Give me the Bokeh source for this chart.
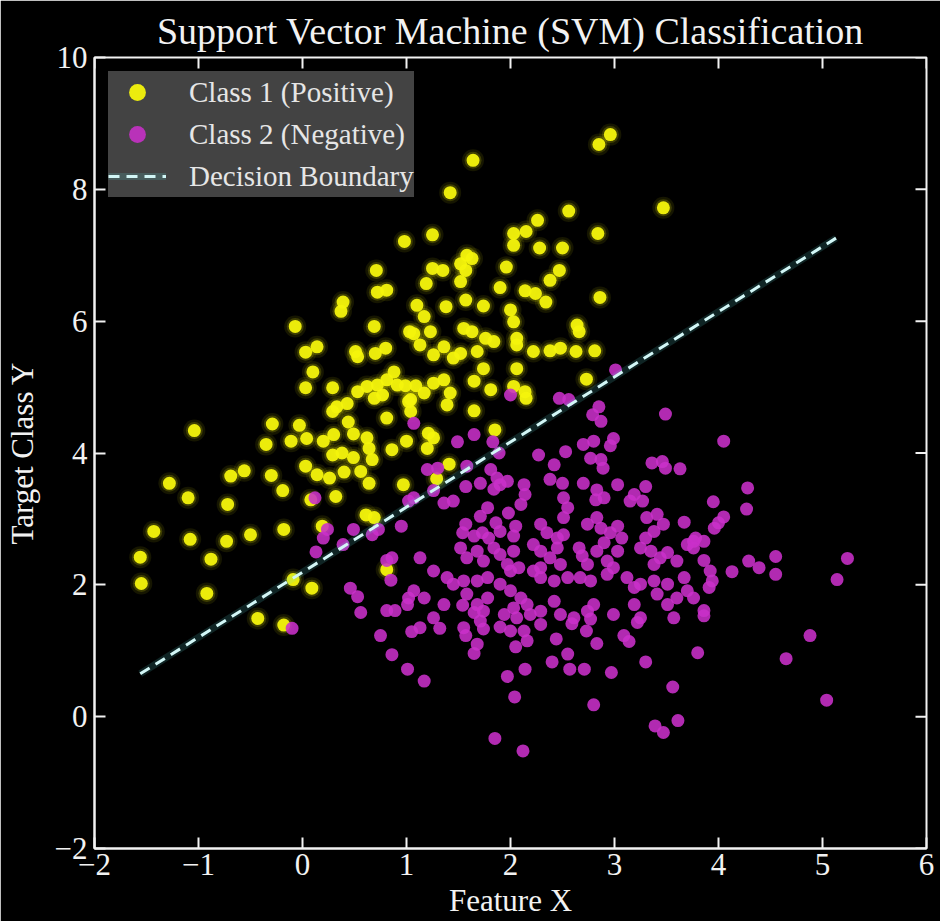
from bokeh.plotting import figure
from bokeh.models import (Range1d, FixedTicker, Legend, LegendItem, ColumnDataSource)
from bokeh.embed import file_html
from bokeh.resources import INLINE

FONT = "Liberation Serif"
FG = "#f2f2f2"

title_text = "Support Vector Machine (SVM) Classification"
x_label = "Feature X"
y_label = "Target Class Y"
legend_labels = ["Class 1 (Positive)", "Class 2 (Negative)", "Decision Boundary"]

x_ticks = [-2, -1, 0, 1, 2, 3, 4, 5, 6]
y_ticks = [-2, 0, 2, 4, 6, 8, 10]
tick_text = {-2: "\u22122", -1: "\u22121"}

# Class 1 (yellow)
class1_x = [1.64, 1.42, 2.85, 2.96, 3.47, 2.56, 2.84, 1.25, 0.98, 2.03, 2.15, 2.26, 2.03, 2.28, 2.50,
            1.58, 1.63, 1.52, 1.57, 1.25, 1.35, 1.96, 2.47, 1.19, 1.52, 1.90, 2.38, 2.14, 2.24, 2.34,
            2.86, 1.10, 1.38, 1.57, 1.74, 2.00, 1.17, 2.03, 2.64, 2.66, 1.07, 1.23, 1.55, 1.63, 1.76,
            1.84, 2.06, 1.13, 1.36, 1.52, 1.68, 2.22, 2.38, 2.48, 2.63, 2.81, 2.06, 1.26, 0.71, 0.72,
            0.81, 0.39, 0.37, -0.07, 0.69, 0.14, 0.03, 0.51, 0.70, 0.80, 1.03, 0.53, 0.10, 0.03, 0.29,
            0.53, 0.62, 0.72, 0.81, 0.88, 0.91, 0.69, 0.77, 0.29, 0.33, 0.43, 1.02, -1.04, -0.29, -0.03,
            0.44, 0.81, -0.35, -0.11, 0.04, 0.20, 0.30, 0.49, 0.62, 0.64, 0.86, 1.00, 0.29, 0.38, 0.49,
            0.67, -0.69, -0.56, -0.30, 0.03, 0.14, 0.26, 0.40, 0.56, 0.64, 0.97, -1.28, -1.10, -0.72,
            -0.19, 0.08, 0.32, 0.61, 0.69, -1.43, -1.08, -0.73, -0.50, -0.18, 0.19, -1.56, -0.88, -1.55,
            -0.92, -0.09, 0.09, -0.43, -0.18, 0.81, 1.45, 1.74, 2.06, 0.99, 1.09, 1.26, 1.36, 1.65,
            1.81, 2.03, 2.14, 2.15, 2.73, 1.04, 1.17, 1.42, 1.39, 1.04, 1.65, 1.21, 1.26, 1.20, 1.85,
            1.41, 1.29]
class1_y = [8.44, 7.95, 8.68, 8.83, 7.72, 7.67, 7.33, 7.31, 7.21, 7.33, 7.36, 7.53, 7.15, 7.11, 7.11,
            7.00, 6.95, 6.87, 6.77, 6.80, 6.77, 6.82, 6.77, 6.57, 6.60, 6.51, 6.62, 6.46, 6.42, 6.29,
            6.36, 6.24, 6.22, 6.32, 6.23, 6.17, 6.07, 5.99, 5.94, 5.84, 5.81, 5.84, 5.89, 5.84, 5.74,
            5.69, 5.74, 5.64, 5.61, 5.51, 5.54, 5.54, 5.55, 5.59, 5.54, 5.55, 5.64, 5.49, 6.77, 6.44,
            6.47, 6.29, 6.15, 5.92, 5.92, 5.61, 5.53, 5.54, 5.51, 5.59, 5.84, 5.46, 5.23, 4.99, 4.99,
            4.93, 5.01, 5.03, 5.11, 5.23, 5.03, 4.83, 4.88, 4.63, 4.70, 4.75, 4.78, 4.34, 4.44, 4.42,
            4.47, 4.53, 4.13, 4.18, 4.22, 4.18, 4.28, 4.29, 4.23, 4.07, 4.05, 4.18, 3.97, 4.00, 3.93,
            3.90, 3.65, 3.73, 3.66, 3.80, 3.67, 3.62, 3.71, 3.72, 3.54, 3.52, 3.54, 3.32, 3.22,
            3.43, 3.29, 3.34, 3.06, 3.02, 2.81, 2.69, 2.66, 2.76, 2.84, 2.89, 2.42, 2.39, 2.02,
            1.87, 2.08, 1.95, 1.49, 1.39, 2.23, 5.44, 5.28, 5.28, 5.02, 5.02, 5.06, 5.11, 5.09,
            4.96, 5.01, 4.93, 4.83, 5.12, 4.81, 4.91, 4.91, 4.73, 4.63, 4.64, 4.30, 4.23, 4.07, 4.35,
            3.83, 3.61]

# Class 2 (magenta)
class2_x = [0.12, 0.24, 0.20, 0.49, 0.67, 0.73, 0.95, 1.02, 0.13, 0.39, 0.81, 0.86, 0.85, 0.46, 0.53,
            0.56, 0.81, 0.89, 1.02, 0.75, -0.10, 2.00, 1.07, 3.01, 2.47, 2.56, 2.85, 2.79, 2.87, 3.49,
            1.49, 1.65, 1.83, 1.89, 2.27, 2.53, 2.42, 2.70, 2.80, 2.96, 2.99, 2.77, 2.87, 2.89, 3.36,
            3.46, 3.49, 3.63, 1.20, 1.30, 1.58, 1.81, 1.57, 1.71, 1.87, 1.90, 1.97, 2.13, 2.14, 2.38,
            2.50, 2.70, 2.83, 2.82, 2.90, 3.03, 3.19, 3.30, 3.27, 3.15, 1.07, 1.26, 1.36, 1.45, 1.84,
            2.51, 2.55, 2.51, 2.10, 1.98, 1.78, 1.71, 1.57, 1.54, 1.65, 1.73, 1.79, 1.86, 1.90, 2.05,
            2.03, 2.29, 2.35, 2.45, 2.51, 2.74, 2.83, 2.87, 2.96, 3.03, 3.07, 3.31, 3.41, 3.47, 3.38,
            3.30, 3.67, 3.76, 3.70, 1.13, 1.52, 1.58, 1.68, 1.74, 1.84, 1.90, 1.97, 2.03, 2.08, 2.22,
            2.29, 2.38, 2.45, 2.48, 2.29, 2.66, 2.69, 2.74, 2.83, 2.90, 2.93, 3.03, 2.99, 3.25, 3.35,
            3.44, 3.51, 3.60, 3.38, 1.26, 1.39, 1.45, 1.55, 1.68, 1.78, 1.90, 2.00, 2.22, 2.29, 2.42,
            2.55, 2.67, 2.77, 2.93, 3.12, 3.19, 3.25, 3.38, 3.51, 3.67, 1.07, 1.17, 1.01, 1.58, 1.68,
            1.78, 2.00, 2.10, 2.16, 2.03, 1.94, 2.06, 2.19, 2.29, 2.42, 2.48, 2.61, 2.74, 2.80, 2.99,
            3.19, 3.25, 3.41, 3.51, 3.60, 3.70, 3.76, 3.57, 1.36, 1.26, 1.13, 1.55, 1.71, 1.74, 1.54,
            1.65, 1.74, 1.05, 1.32, 1.57, 1.68, 1.65, 0.86, 1.01, 1.17, 1.90, 2.00, 2.29, 2.05, 2.16,
            2.13, 2.44, 2.59, 2.77, 2.73, 2.83, 3.09, 3.14, 3.22, 3.80, 2.55, 2.40, 2.57, 2.71, 2.97,
            3.30, 2.14, 1.97, 2.04, 2.80, 3.56, 3.39, 3.47, 3.61, 1.85, 2.12, 4.05, 4.28, 3.95, 4.27,
            4.05, 4.00, 3.96, 3.78, 3.86, 3.76, 3.86, 4.13, 4.29, 4.39, 4.55, 4.55, 5.24, 5.14, 3.92,
            3.94, 3.91, 3.86, 3.86, 4.88, 4.65, 5.04]
class2_y = [3.32, 2.84, 2.71, 2.84, 2.76, 2.84, 2.89, 3.27, 2.50, 2.61, 2.37, 2.41, 2.07, 1.95, 1.82,
            1.58, 1.61, 1.61, 1.80, 1.23, 1.34, 4.88, 4.45, 5.26, 4.83, 4.81, 4.70, 4.58, 4.48, 4.59,
            4.17, 4.28, 4.17, 4.00, 3.97, 4.02, 3.82, 4.13, 4.18, 4.11, 4.22, 3.92, 3.90, 3.77, 3.85,
            3.87, 3.77, 3.76, 3.75, 3.77, 3.80, 3.75, 3.49, 3.54, 3.62, 3.52, 3.57, 3.52, 3.37, 3.60,
            3.54, 3.54, 3.44, 3.29, 3.32, 3.52, 3.37, 3.49, 3.27, 3.27, 3.32, 3.43, 3.24, 3.27, 3.45,
            3.32, 3.17, 3.02, 3.22, 3.09, 3.17, 3.04, 2.92, 2.79, 2.74, 2.79, 2.71, 2.94, 2.81, 2.89,
            2.74, 2.92, 2.79, 2.71, 2.76, 2.92, 3.02, 2.86, 2.79, 2.89, 2.71, 3.02, 3.07, 2.92, 2.81,
            2.71, 2.95, 2.66, 2.61, 2.41, 2.56, 2.41, 2.51, 2.36, 2.56, 2.46, 2.31, 2.51, 2.26, 2.61,
            2.51, 2.41, 2.56, 2.31, 2.26, 2.56, 2.44, 2.31, 2.51, 2.64, 2.36, 2.51, 2.26, 2.56, 2.51,
            2.41, 2.49, 2.36, 2.31, 2.21, 2.11, 2.01, 2.06, 2.06, 2.11, 2.01, 2.21, 2.21, 2.11, 2.06,
            2.11, 2.11, 2.06, 2.16, 2.11, 1.96, 2.01, 2.06, 2.01, 2.11, 1.91, 1.80, 1.70, 1.86, 1.70,
            1.80, 1.91, 1.80, 1.70, 1.65, 1.55, 1.50, 1.55, 1.60, 1.75, 1.55, 1.50, 1.60, 1.70, 1.55,
            1.70, 1.50, 1.86, 1.70, 1.80, 1.91, 1.80, 1.50, 1.70, 1.50, 1.35, 1.35, 1.45, 1.33, 1.69,
            1.58, 1.60, 1.29, 1.34, 1.23, 1.10, 0.96, 0.94, 0.72, 0.54, 1.36, 1.30, 1.40, 1.06, 1.15,
            1.30, 1.18, 1.41, 1.48, 1.30, 1.11, 1.23, 1.14, 1.43, 0.97, 0.95, 0.83, 0.72, 0.72, 0.67,
            0.83, 0.72, 0.61, 0.30, 0.18, 0.45, -0.14, -0.24, -0.06, -0.33, -0.52, 4.18, 3.47, 3.26, 3.15,
            3.03, 2.94, 2.86, 2.71, 2.66, 2.56, 2.37, 2.20, 2.36, 2.26, 2.43, 2.16, 2.40, 2.08, 2.21,
            2.06, 1.96, 1.61, 1.53, 1.23, 0.88, 0.25]

# decision boundary end points
boundary_x = [-1.56, 5.13]
boundary_y = [0.65, 7.26]

YELLOW = "#f4f40c"
MAGENTA = "#c930c9"
LINE = "#d2f6f6"
GLOW = "#5fdede"

X0, X1, Y0, Y1 = -2, 6, -2, 10

p = figure(width=940, height=921, x_range=Range1d(X0, X1), y_range=Range1d(Y0, Y1),
           output_backend="svg", toolbar_location=None,
           background_fill_color="#000000", border_fill_color="#000000",
           min_border_left=94, min_border_right=14, min_border_top=57, min_border_bottom=73,
           outline_line_color=FG, outline_line_width=2)
p.grid.visible = False

p.title.text = title_text
p.title.text_font = FONT
p.title.text_font_size = "38px"
p.title.text_font_style = "normal"
p.title.text_color = FG
p.title.align = "center"
p.title.vertical_align = "middle"


def style_axis(ax, ticks):
    ax.ticker = FixedTicker(ticks=ticks)
    ax.axis_line_color = FG
    ax.axis_line_width = 2
    ax.major_tick_in = 11
    ax.major_tick_out = 0
    ax.minor_tick_in = 0
    ax.minor_tick_out = 0
    ax.major_tick_line_color = FG
    ax.major_tick_line_width = 2
    ax.major_label_text_font = FONT
    ax.major_label_text_color = FG
    ax.major_label_text_font_size = "31px"
    ax.major_label_overrides = tick_text
    ax.axis_label_text_font = FONT
    ax.axis_label_text_font_size = "31px"
    ax.axis_label_text_font_style = "normal"
    ax.axis_label_text_color = FG


xa = p.xaxis[0]
ya = p.yaxis[0]
style_axis(xa, x_ticks)
style_axis(ya, y_ticks)
xa.axis_label = x_label
xa.major_label_standoff = 5
xa.axis_label_standoff = 5
ya.axis_label = y_label
ya.major_label_standoff = 7
ya.axis_label_standoff = 12

# inward ticks on the top and right edges (mirroring the bottom/left axes)
tick_len_y = 11 / 66.0   # 11 px in y data units
tick_len_x = 11 / 104.0  # 11 px in x data units
p.segment(x0=x_ticks, y0=[Y1] * len(x_ticks), x1=x_ticks, y1=[Y1 - tick_len_y] * len(x_ticks),
          line_color=FG, line_width=2)
p.segment(x0=[X1] * len(y_ticks), y0=y_ticks, x1=[X1 - tick_len_x] * len(y_ticks), y1=y_ticks,
          line_color=FG, line_width=2)

src1 = ColumnDataSource(dict(x=class1_x, y=class1_y))
src2 = ColumnDataSource(dict(x=class2_x, y=class2_y))
srcb = ColumnDataSource(dict(x=boundary_x, y=boundary_y))

p.scatter("x", "y", source=src1, size=22, fill_color=YELLOW, fill_alpha=0.09, line_color=None)
p.scatter("x", "y", source=src1, size=17, fill_color=YELLOW, fill_alpha=0.18, line_color=None)
r1 = p.scatter("x", "y", source=src1, size=13, fill_color=YELLOW, fill_alpha=0.95, line_color=None)
r2 = p.scatter("x", "y", source=src2, size=13, fill_color=MAGENTA, fill_alpha=0.88, line_color=None)
rg = p.line("x", "y", source=srcb, line_color=GLOW, line_width=7, line_alpha=0.16)
rl = p.line("x", "y", source=srcb, line_color=LINE, line_width=3, line_dash="11 7")

legend = Legend(items=[LegendItem(label=legend_labels[0], renderers=[r1]),
                       LegendItem(label=legend_labels[1], renderers=[r2]),
                       LegendItem(label=legend_labels[2], renderers=[rg, rl])],
                location="top_left", margin=14, padding=15, spacing=0,
                label_height=42, glyph_height=42, glyph_width=58, label_standoff=23,
                label_text_font=FONT, label_text_font_size="29px", label_text_color="#e6e6e6",
                background_fill_color="#474747", background_fill_alpha=0.95,
                border_line_color=None)
p.add_layout(legend)

open("out.html", "w").write(file_html(p, INLINE))
